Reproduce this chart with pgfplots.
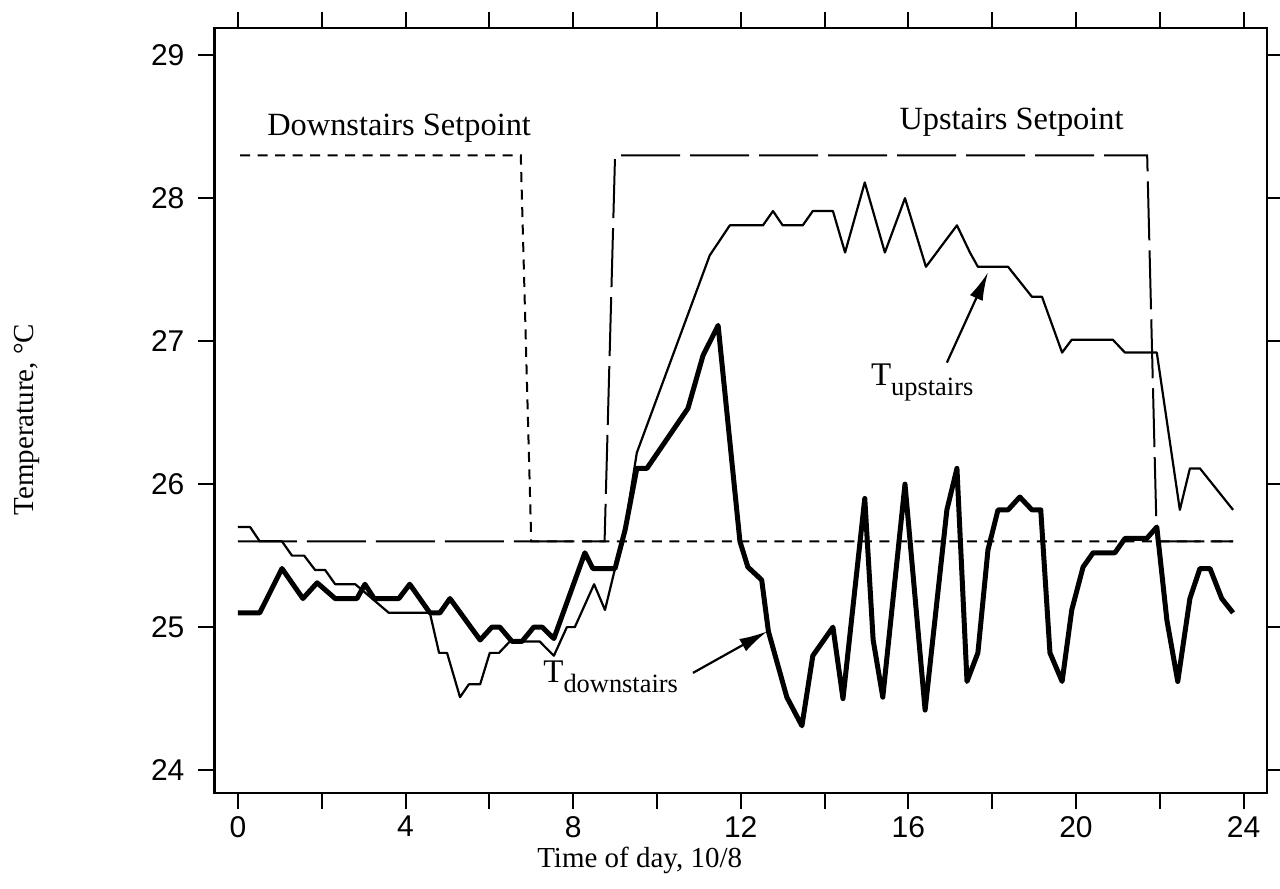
\documentclass[border=0pt]{standalone}
\usepackage{fontspec}
\setmainfont{Liberation Serif}
\newfontfamily\ticksf{Liberation Sans}
\usepackage{pgfplots}
\pgfplotsset{compat=1.18}
\usetikzlibrary{arrows.meta}

\begin{document}
\begin{tikzpicture}
\begin{axis}[
    scale only axis,
    width=526.25pt, height=382.5pt,
    xmin=-0.56, xmax=24.56,
    ymin=23.84, ymax=29.19,
    axis line style={line width=1.2pt},
    xtick={0,2,...,24},
    xticklabels={0,,4,,8,,12,,16,,20,,24},
    ytick={24,25,26,27,28,29},
    tick align=outside,
    xtick pos=both, ytick pos=both,
    xticklabel pos=lower, yticklabel pos=left,
    major tick length=8pt,
    tick style={line width=1pt, black},
    /pgf/number format/assume math mode=true,
    ticklabel style={font=\ticksf\fontsize{15}{18}\selectfont},
    yticklabel style={xshift=-3.5pt},
    xlabel={Time of day, 10/8},
    ylabel={Temperature, °C},
    label style={font=\fontsize{14.5}{17}\selectfont},
    xlabel style={at={(rel axis cs:0.404,-0.097)}, anchor=base},
    ylabel style={at={(rel axis cs:-0.178,0.488)}, anchor=center},
    clip=false,
]
% downstairs setpoint
\addplot[black, line width=1pt, dash pattern=on 5pt off 3.75pt]
  coordinates {(0.05,28.3)(6.75,28.3)(7.0,25.6)(23.75,25.6)};
% upstairs setpoint
\addplot[black, line width=1pt, dash pattern=on 29.5pt off 5pt]
  coordinates {(0,25.6)(8.75,25.6)(9.0,28.3)(21.7,28.3)(21.93,25.6)(23.75,25.6)};
% T downstairs
\addplot[black, line width=2.5pt, line join=round]
  coordinates {(0,25.1)(0.52,25.1)(1.05,25.41)(1.55,25.2)(1.89,25.31)(2.32,25.2)(2.84,25.2)(3.03,25.3)(3.25,25.2)(3.84,25.2)(4.1,25.3)(4.58,25.1)(4.82,25.1)(5.06,25.2)(5.78,24.91)(6.06,25.0)(6.25,25.0)(6.54,24.9)(6.78,24.9)(7.06,25.0)(7.26,25.0)(7.54,24.92)(8.28,25.52)(8.47,25.41)(9.0,25.41)(9.24,25.68)(9.52,26.11)(9.76,26.11)(10.74,26.53)(11.1,26.9)(11.46,27.11)(11.98,25.6)(12.17,25.42)(12.5,25.33)(12.66,24.97)(13.1,24.51)(13.46,24.31)(13.72,24.8)(14.2,25.0)(14.44,24.5)(14.96,25.9)(15.16,24.91)(15.39,24.51)(15.92,26.0)(16.4,24.42)(16.92,25.82)(17.16,26.11)(17.4,24.62)(17.66,24.82)(17.9,25.54)(18.14,25.82)(18.38,25.82)(18.66,25.91)(18.95,25.82)(19.16,25.82)(19.38,24.82)(19.67,24.62)(19.9,25.12)(20.17,25.42)(20.41,25.52)(20.93,25.52)(21.17,25.62)(21.69,25.62)(21.93,25.7)(22.17,25.05)(22.43,24.62)(22.72,25.2)(22.96,25.41)(23.2,25.41)(23.48,25.2)(23.75,25.1)};
% T upstairs
\addplot[black, line width=1.1pt, line join=round]
  coordinates {(0,25.7)(0.29,25.7)(0.52,25.6)(1.05,25.6)(1.29,25.5)(1.58,25.5)(1.84,25.4)(2.08,25.4)(2.32,25.3)(2.8,25.3)(3.2,25.2)(3.6,25.1)(4.58,25.1)(4.8,24.82)(4.99,24.82)(5.3,24.51)(5.51,24.6)(5.78,24.6)(6.01,24.82)(6.23,24.82)(6.49,24.9)(7.2,24.9)(7.54,24.8)(7.85,25.0)(8.04,25.0)(8.5,25.3)(8.76,25.12)(9.24,25.7)(9.52,26.22)(11.26,27.6)(11.74,27.81)(12.53,27.81)(12.77,27.91)(13.0,27.81)(13.48,27.81)(13.72,27.91)(14.2,27.91)(14.49,27.62)(14.96,28.11)(15.44,27.62)(15.92,28.0)(16.42,27.52)(17.16,27.81)(17.47,27.62)(17.66,27.52)(18.38,27.52)(18.95,27.31)(19.19,27.31)(19.67,26.92)(19.9,27.01)(20.88,27.01)(21.17,26.92)(21.93,26.92)(22.48,25.82)(22.72,26.11)(22.96,26.11)(23.75,25.82)};

\node[anchor=base west, inner sep=0pt, font=\fontsize{16.2}{19}\selectfont] at (axis cs:0.69,28.44) {Downstairs Setpoint};
\node[anchor=base west, inner sep=0pt, font=\fontsize{16.2}{19}\selectfont] at (axis cs:15.78,28.48) {Upstairs Setpoint};
\node[anchor=base west, inner sep=0pt, font=\fontsize{16.5}{19}\selectfont] at (axis cs:7.28,24.61) {T\raisebox{-5pt}{\fontsize{13.2}{15}\selectfont downstairs}};
\node[anchor=base west, inner sep=0pt, font=\fontsize{16.5}{19}\selectfont] at (axis cs:15.1,26.69) {T\raisebox{-5pt}{\fontsize{13.2}{15}\selectfont upstairs}};
\draw[line width=1.1pt, -{Latex[length=14pt, width=7pt]}] (axis cs:10.86,24.68) -- (axis cs:12.63,24.97);
\draw[line width=1.1pt, -{Latex[length=14pt, width=7pt]}] (axis cs:16.92,26.85) -- (axis cs:17.9,27.48);
\end{axis}
\pgfresetboundingbox
\path[use as bounding box] ([xshift=-107.25pt,yshift=-48pt]current axis.south west) rectangle ([xshift=6.5pt,yshift=14pt]current axis.north east);
\end{tikzpicture}
\end{document}
